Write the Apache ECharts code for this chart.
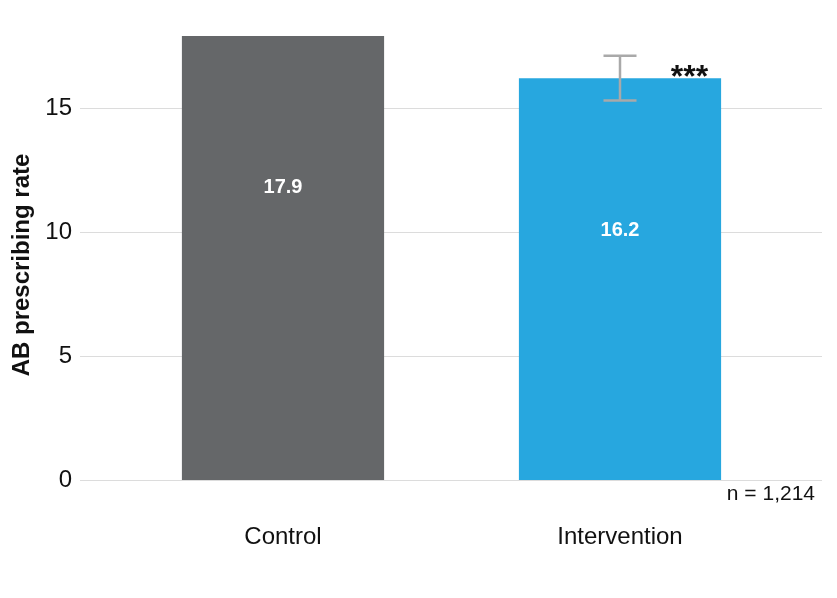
<!DOCTYPE html>
<html>
<head>
<meta charset="utf-8">
<script src="https://cdn.jsdelivr.net/npm/echarts@6/dist/echarts.min.js"></script>
<style>
  html, body { margin: 0; padding: 0; background: #fff; }
  #chart { width: 837px; height: 598px; }
</style>
</head>
<body>
<div id="chart"></div>
<script>
// data
var groups = ['Control', 'Intervention'];
var rates = [17.9, 16.2];
var errLow = [null, 15.3];
var errHigh = [null, 17.1];
var sigMarks = ['', '***'];
var yTicks = [0, 5, 10, 15];
var barColors = ['#656769', '#27a7df'];
var sampleNote = 'n = 1,214';

var FONT = '"Liberation Sans", Arial, sans-serif';
var Y_MAX = 19.35; // top of plot area

var chart = echarts.init(document.getElementById('chart'));

var errData = groups.map(function (g, i) {
    return [i, errLow[i], errHigh[i], rates[i]];
});

var option = {
    animation: false,
    textStyle: { fontFamily: FONT },
    grid: [
        // background grid: gridlines + y labels
        { left: 80, right: 15, top: 0, bottom: 118 },
        // grid carrying the bars
        { left: 114.5, right: 48.5, top: 0, bottom: 118 }
    ],
    xAxis: [
        { gridIndex: 0, type: 'category', data: [''], show: false },
        {
            gridIndex: 1, type: 'category', data: groups,
            axisLine: { show: false }, axisTick: { show: false },
            axisLabel: { fontSize: 24, color: '#111', margin: 45, fontFamily: FONT }
        }
    ],
    yAxis: [
        {
            gridIndex: 0, type: 'value', min: 0, max: Y_MAX, interval: 5,
            axisLine: { show: false }, axisTick: { show: false },
            axisLabel: {
                fontSize: 24, color: '#111', margin: 8, fontFamily: FONT,
                showMaxLabel: false,
                formatter: function (v) { return yTicks.indexOf(v) >= 0 ? String(v) : ''; }
            },
            splitLine: { showMaxLine: false, lineStyle: { color: '#dcdcdc', width: 1 } }
        },
        { gridIndex: 1, type: 'value', min: 0, max: Y_MAX, interval: 5, show: false }
    ],
    series: [
        {
            type: 'bar',
            xAxisIndex: 1, yAxisIndex: 1,
            barWidth: '60%',
            data: rates.map(function (v, i) {
                return { value: v, itemStyle: { color: barColors[i] } };
            }),
            label: {
                show: true, position: 'insideTop', distance: 142,
                color: '#fff', fontWeight: 'bold', fontSize: 20, fontFamily: FONT,
                formatter: function (p) { return p.value.toFixed(1); }
            }
        },
        {
            type: 'custom',
            xAxisIndex: 1, yAxisIndex: 1,
            data: errData,
            renderItem: function (params, api) {
                var children = [];
                var idx = api.value(0);
                var lo = api.value(1), hi = api.value(2);
                var bw = api.size([1, 0])[0] * 0.6;
                if (errLow[params.dataIndex] != null) {
                    var top = api.coord([idx, hi]);
                    var bot = api.coord([idx, lo]);
                    var cap = 16.5;
                    var st = { stroke: '#a9a9a9', lineWidth: 2.5 };
                    children.push(
                        { type: 'line', shape: { x1: top[0], y1: top[1], x2: bot[0], y2: bot[1] }, style: st },
                        { type: 'line', shape: { x1: top[0] - cap, y1: top[1], x2: top[0] + cap, y2: top[1] }, style: st },
                        { type: 'line', shape: { x1: bot[0] - cap, y1: bot[1], x2: bot[0] + cap, y2: bot[1] }, style: st }
                    );
                }
                var sig = sigMarks[params.dataIndex];
                if (sig) {
                    var pt = api.coord([idx, api.value(3)]);
                    children.push({
                        type: 'text',
                        style: {
                            x: pt[0] + bw / 2 - 13, y: pt[1] + 16.5,
                            text: sig, align: 'right', verticalAlign: 'bottom',
                            fill: '#111', font: 'bold 32px ' + FONT
                        }
                    });
                }
                return { type: 'group', children: children };
            },
            z: 10
        }
    ],
    graphic: [
        {
            type: 'text', x: 22, y: 265, rotation: Math.PI / 2,
            style: {
                text: 'AB prescribing rate', fill: '#111',
                font: 'bold 24px ' + FONT, align: 'center', verticalAlign: 'middle'
            }
        },
        {
            type: 'text', x: 815, y: 494,
            style: {
                text: sampleNote, fill: '#111',
                font: '21px ' + FONT, align: 'right', verticalAlign: 'middle'
            }
        }
    ]
};

chart.setOption(option);
</script>
</body>
</html>
